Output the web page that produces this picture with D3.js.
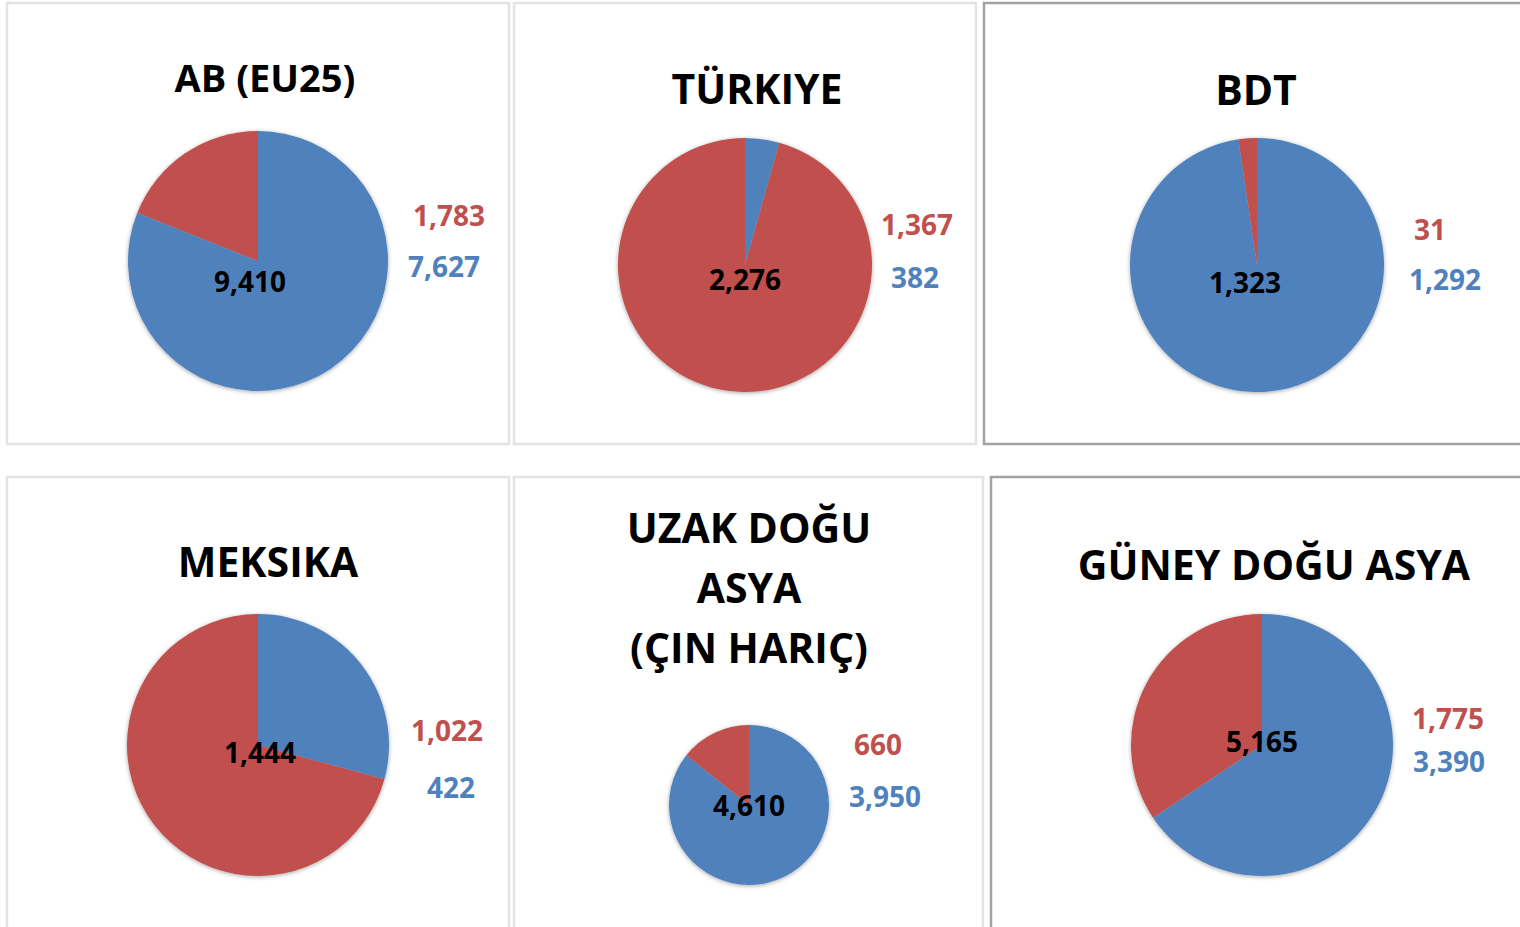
<!DOCTYPE html>
<html>
<head>
<meta charset="utf-8">
<script src="https://cdn.jsdelivr.net/npm/d3@7"></script>
<style>
  body { margin: 0; background: #fff; }
  svg { display: block; }
  text { font-family: "Open Sans", "Noto Sans", sans-serif; font-weight: 700; }
</style>
</head>
<body>
<svg width="1520" height="927"></svg>
<script>
// data
var regions = ["AB (EU25)", "TÜRKIYE", "BDT", "MEKSIKA", "UZAK DOĞU|ASYA|(ÇIN HARIÇ)", "GÜNEY DOĞU ASYA"];
var totals = [9410, 2276, 1323, 1444, 4610, 5165];
var redValues = [1783, 1367, 31, 1022, 660, 1775];
var blueValues = [7627, 382, 1292, 422, 3950, 3390];
// slice sizes as drawn (Türkiye's pie does not follow its labels)
var sliceBlue = [7627, 99, 1292, 422, 3950, 3390];
var sliceRed = [1783, 2177, 31, 1022, 660, 1775];

var blue = "#4F81BD", red = "#C0504D";
var fmt = d3.format(",");

// panel layout
var panels = [
  {x: 7,   y: 3,   w: 502, h: 441, dark: false, cx: 258,  cy: 261, r: 130, tx: 265,  ty: 92,  fs: 38,
   red: [449, 226], blue: [444, 277], tot: [250, 292]},
  {x: 514, y: 3,   w: 462, h: 441, dark: false, cx: 745,  cy: 265, r: 127, tx: 757,  ty: 104, fs: 41,
   red: [917, 235], blue: [915, 288], tot: [745, 290]},
  {x: 984, y: 3,   w: 545, h: 441, dark: true,  cx: 1257, cy: 265, r: 127, tx: 1256, ty: 105, fs: 41,
   red: [1430, 240], blue: [1445, 290], tot: [1245, 293]},
  {x: 7,   y: 477, w: 502, h: 460, dark: false, cx: 258,  cy: 745, r: 131, tx: 268,  ty: 577, fs: 41,
   red: [447, 741], blue: [451, 798], tot: [260, 763]},
  {x: 514, y: 477, w: 469, h: 460, dark: false, cx: 749,  cy: 805, r: 80,  tx: 749,  ty: 543, fs: 41,
   red: [878, 755], blue: [885, 807], tot: [749, 816]},
  {x: 991, y: 477, w: 540, h: 460, dark: true,  cx: 1262, cy: 745, r: 131, tx: 1274, ty: 580, fs: 41,
   red: [1448, 729], blue: [1449, 772], tot: [1262, 752]}
];

var svg = d3.select("svg");

var defs = svg.append("defs");
var f = defs.append("filter").attr("id", "shadow")
  .attr("x", "-10%").attr("y", "-10%").attr("width", "120%").attr("height", "120%");
f.append("feDropShadow")
  .attr("dx", 0).attr("dy", 1).attr("stdDeviation", 2)
  .attr("flood-color", "#000").attr("flood-opacity", 0.35);

var pie = d3.pie().sort(null).value(function(d) { return d.v; });

for (var i = 0; i < panels.length; i++) {
  var p = panels[i];

  // frame
  svg.append("rect")
    .attr("x", p.x).attr("y", p.y)
    .attr("width", p.w).attr("height", p.h)
    .attr("fill", "#fff")
    .attr("stroke", p.dark ? "#a3a3a3" : "#e3e3e3")
    .attr("stroke-width", p.dark ? 2.5 : 2.5);

  // title, may be split on several lines
  var lines = regions[i].split("|");
  var t = svg.append("text")
    .attr("x", p.tx).attr("y", p.ty)
    .attr("text-anchor", "middle")
    .attr("font-size", p.fs)
    .attr("fill", "#000");
  lines.forEach(function(l, j) {
    t.append("tspan").attr("x", p.tx).attr("dy", j === 0 ? 0 : 60).text(l);
  });

  // pie
  var arc = d3.arc().innerRadius(0).outerRadius(p.r);
  var g = svg.append("g")
    .attr("transform", "translate(" + p.cx + "," + p.cy + ")")
    .attr("filter", "url(#shadow)");
  g.selectAll("path")
    .data(pie([{v: sliceBlue[i], c: blue}, {v: sliceRed[i], c: red}]))
    .enter().append("path")
    .attr("d", arc)
    .attr("fill", function(d) { return d.data.c; });

  // labels
  svg.append("text")
    .attr("x", p.red[0]).attr("y", p.red[1])
    .attr("text-anchor", "middle").attr("font-size", 28)
    .attr("fill", red).text(fmt(redValues[i]));
  svg.append("text")
    .attr("x", p.blue[0]).attr("y", p.blue[1])
    .attr("text-anchor", "middle").attr("font-size", 28)
    .attr("fill", blue).text(fmt(blueValues[i]));
  svg.append("text")
    .attr("x", p.tot[0]).attr("y", p.tot[1])
    .attr("text-anchor", "middle").attr("font-size", 28)
    .attr("fill", "#000").text(fmt(totals[i]));
}
</script>
</body>
</html>
